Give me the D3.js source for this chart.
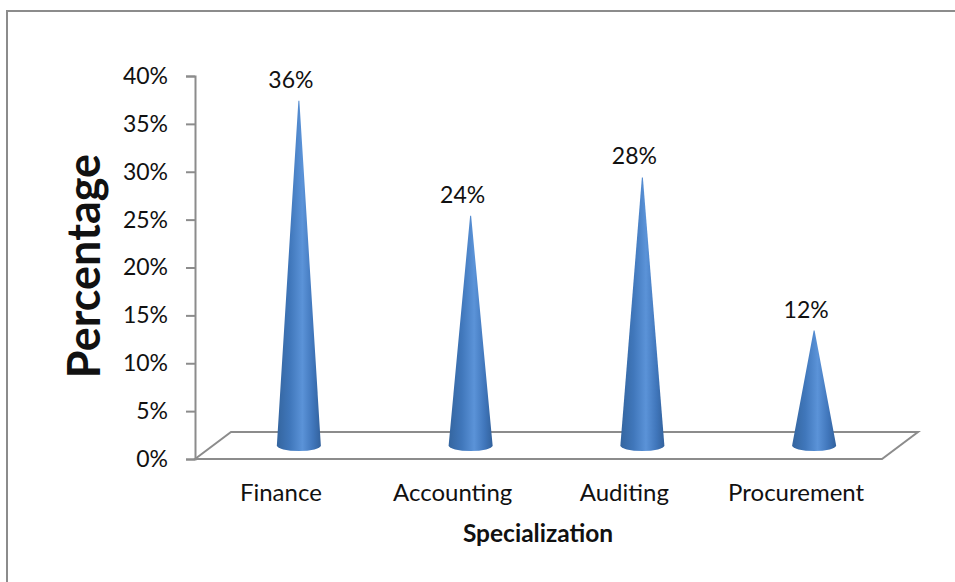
<!DOCTYPE html>
<html>
<head>
<meta charset="utf-8">
<script src="https://cdn.jsdelivr.net/npm/d3@7"></script>
<style>
  html, body { margin: 0; padding: 0; background: #fff; }
  text { font-family: Lato, "Open Sans", sans-serif; fill: #111; }
</style>
</head>
<body>
<div id="container"></div>
<script>
const categories = ["Finance", "Accounting", "Auditing", "Procurement"];
const values = [36, 24, 28, 12];
const tickValues = [0, 5, 10, 15, 20, 25, 30, 35, 40];

main();

function main() {
  const width = 955;
  const height = 582;
  const lineColor = "#8c8c8c";
  // plot floor, front edge and how far the back edge is pushed
  const plot = { left: 195, right: 882, top: 76, bottom: 459 };
  const depth = { x: 36, y: 27 };
  const coneHalfWidth = 22;

  const svg = d3
    .select("#container")
    .append("svg")
    .attr("width", width)
    .attr("height", height)
    .style("display", "block");

  const gradient = svg
    .append("defs")
    .append("linearGradient")
    .attr("id", "coneFill")
    .attr("x1", "0%")
    .attr("x2", "100%");
  gradient.append("stop").attr("offset", "0%").attr("stop-color", "#34659f");
  gradient.append("stop").attr("offset", "30%").attr("stop-color", "#4077bb");
  gradient.append("stop").attr("offset", "58%").attr("stop-color", "#5b93d8");
  gradient.append("stop").attr("offset", "82%").attr("stop-color", "#4076bb");
  gradient.append("stop").attr("offset", "100%").attr("stop-color", "#32619c");

  // chart frame: only the left and top edges show in the picture
  svg
    .append("path")
    .attr("d", `M7,${height} L7,11 L${width},11`)
    .attr("fill", "none")
    .attr("stroke", lineColor)
    .attr("stroke-width", 2);

  const scaleX = d3
    .scaleBand()
    .domain(categories)
    .range([plot.left, plot.right]);
  const scaleY = d3
    .scaleLinear()
    .domain([0, 40])
    .range([plot.bottom, plot.top]);

  const axisY = svg
    .append("g")
    .attr("transform", `translate(${plot.left}, 0)`)
    .call(
      d3
        .axisLeft(scaleY)
        .tickValues(tickValues)
        .tickFormat((d) => d + "%")
        .tickSize(9)
        .tickPadding(18)
    );
  axisY.selectAll("path, line").attr("stroke", lineColor).attr("stroke-width", 2);
  axisY.selectAll("text").attr("font-size", 23);
  axisY.attr("font-family", null);

  const floor = d3.path();
  floor.moveTo(plot.left, plot.bottom);
  floor.lineTo(plot.left + depth.x, plot.bottom - depth.y);
  floor.lineTo(plot.right + depth.x, plot.bottom - depth.y);
  floor.lineTo(plot.right, plot.bottom);
  floor.closePath();
  svg
    .append("path")
    .attr("d", floor.toString())
    .attr("fill", "none")
    .attr("stroke", lineColor)
    .attr("stroke-width", 2);

  const axisX = svg
    .append("g")
    .attr("transform", `translate(0, ${plot.bottom})`)
    .call(d3.axisBottom(scaleX).tickSize(0).tickPadding(25));
  axisX.select("path").remove();
  axisX.selectAll("text").attr("font-size", 24);
  axisX.attr("font-family", null);

  const coneX = (d) => scaleX(d) + scaleX.bandwidth() / 2 + depth.x / 2;
  const baseY = plot.bottom - depth.y / 2;

  function conePath(category, value) {
    const cx = coneX(category);
    const tipY = scaleY(value) - depth.y / 2;
    return (
      `M${cx - coneHalfWidth},${baseY}` +
      `L${cx - 0.5},${tipY}L${cx + 0.5},${tipY}` +
      `L${cx + coneHalfWidth},${baseY}` +
      `A${coneHalfWidth},5.5 0 0 1 ${cx - coneHalfWidth},${baseY}Z`
    );
  }

  svg
    .selectAll(".cone")
    .data(categories)
    .join("path")
    .classed("cone", true)
    .attr("d", (d, i) => conePath(d, values[i]))
    .attr("fill", "url(#coneFill)");

  svg
    .selectAll(".coneLabel")
    .data(categories)
    .join("text")
    .classed("coneLabel", true)
    .attr("x", (d) => coneX(d) - 8)
    .attr("y", (d, i) => scaleY(values[i]) - depth.y / 2 - 13)
    .attr("text-anchor", "middle")
    .attr("font-size", 23)
    .text((d, i) => values[i] + "%");

  svg
    .append("text")
    .attr("x", 538)
    .attr("y", 542)
    .attr("text-anchor", "middle")
    .attr("font-size", 24.5)
    .attr("font-weight", 700)
    .text("Specialization");

  svg
    .append("text")
    .attr("transform", "translate(100, 266) rotate(-90)")
    .attr("text-anchor", "middle")
    .attr("font-size", 45)
    .attr("font-weight", 700)
    .text("Percentage");
}
</script>
</body>
</html>
